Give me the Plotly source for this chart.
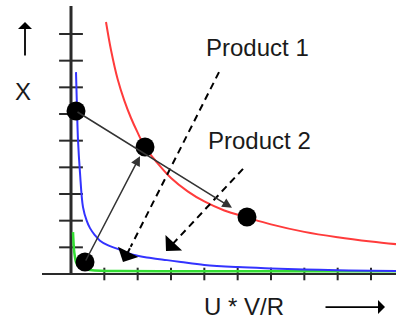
import plotly.graph_objects as go

# ---- data (in axis units: 1 x-unit = one x tick, 1 y-unit = one y tick) ----
red_x = [1.05, 1.2, 1.4, 1.6, 1.8, 2.0, 2.22, 2.6, 3.0, 3.5, 4.0, 4.6, 5.28, 6.0, 7.0, 8.0, 9.0, 9.75]
red_y = [9.45, 8.4, 7.3, 6.5, 5.85, 5.3, 4.76, 4.15, 3.6, 3.1, 2.72, 2.38, 2.12, 1.86, 1.58, 1.38, 1.22, 1.12]

blue_x = [0.15, 0.18, 0.21, 0.27, 0.36, 0.47, 0.57, 0.72, 0.87, 1.1, 1.38, 1.86, 2.4, 2.88, 3.3, 4.0, 5.0, 6.0, 7.0, 8.0, 9.0, 9.75]
blue_y = [7.57, 6.2, 5.02, 3.79, 2.51, 2.0, 1.72, 1.45, 1.25, 1.08, 0.95, 0.72, 0.6, 0.52, 0.45, 0.34, 0.26, 0.21, 0.17, 0.14, 0.12, 0.11]

green_x = [0.06, 0.08, 0.1, 0.15, 0.2, 0.27, 0.4, 0.57, 0.9, 1.47, 3.0, 5.0, 7.0, 9.75]
green_y = [1.57, 1.1, 0.8, 0.45, 0.33, 0.26, 0.19, 0.15, 0.12, 0.11, 0.1, 0.1, 0.1, 0.1]

dot_x = [0.15, 2.22, 5.28, 0.42]
dot_y = [6.11, 4.76, 2.14, 0.45]

ytick_vals = [1, 2, 3, 4, 5, 6, 7, 8, 9]
xtick_vals = [1, 2, 3, 4, 5, 6, 7, 8, 9]

labels = ["Product 1", "Product 2"]
label_x = [5.58, 5.64]
label_y = [8.51, 4.99]

# dashed pointer lines (start -> tip)
dash_start_x = [4.44, 5.16]
dash_start_y = [7.57, 3.94]
dash_tip_x = [1.56, 2.85]
dash_tip_y = [0.45, 0.86]

# solid arrows (tail -> tip)
solid_tail_x = [0.15, 0.42]
solid_tail_y = [6.11, 0.45]
solid_tip_x = [4.83, 2.07]
solid_tip_y = [2.48, 4.42]

FONT = "Liberation Sans, Arial, sans-serif"
AX = "#2a2a2a"

fig = go.Figure()

# axes lines
fig.add_shape(type="line", x0=0, y0=0, x1=0, y1=10.05, line=dict(color=AX, width=3), layer="below")
fig.add_shape(type="line", x0=-0.87, y0=0, x1=9.75, y1=0, line=dict(color=AX, width=2), layer="below")

# ticks
fig.add_trace(go.Scatter(x=[0] * len(ytick_vals), y=ytick_vals, mode="markers",
                         marker=dict(symbol="line-ew", size=17, line=dict(color=AX, width=2)),
                         hoverinfo="skip"))
fig.add_trace(go.Scatter(x=xtick_vals, y=[0] * len(xtick_vals), mode="markers",
                         marker=dict(symbol="line-ns", size=9, line=dict(color=AX, width=2)),
                         hoverinfo="skip"))

# curves
fig.add_trace(go.Scatter(x=green_x, y=green_y, mode="lines", line=dict(color="#33dd33", width=2.5, shape="spline")))
fig.add_trace(go.Scatter(x=blue_x, y=blue_y, mode="lines", line=dict(color="#3333ff", width=2, shape="spline")))
fig.add_trace(go.Scatter(x=red_x, y=red_y, mode="lines", line=dict(color="#ff3b3b", width=2, shape="spline")))

# dashed pointer lines
for i in range(2):
    fx = dash_tip_x[i] + (dash_start_x[i] - dash_tip_x[i]) * 0.08
    fy = dash_tip_y[i] + (dash_start_y[i] - dash_tip_y[i]) * 0.08
    fig.add_trace(go.Scatter(x=[dash_start_x[i], fx], y=[dash_start_y[i], fy],
                             mode="lines", line=dict(color="black", width=2, dash="7px,5px")))
    # arrow head only
    fig.add_annotation(x=dash_tip_x[i], y=dash_tip_y[i], ax=fx, ay=fy, xref="x", yref="y",
                       axref="x", ayref="y", showarrow=True, arrowhead=1, arrowsize=1.9,
                       arrowwidth=2, arrowcolor="black", text="")

# solid arrows
for i in range(2):
    fig.add_annotation(x=solid_tip_x[i], y=solid_tip_y[i], ax=solid_tail_x[i], ay=solid_tail_y[i],
                       xref="x", yref="y", axref="x", ayref="y", showarrow=True, arrowhead=2,
                       arrowsize=1.3, arrowwidth=1.5, arrowcolor="#333333", text="")

# dots
fig.add_trace(go.Scatter(x=dot_x, y=dot_y, mode="markers",
                         marker=dict(color="black", size=19, line=dict(width=0))))

# labels
for t, lx, ly in zip(labels, label_x, label_y):
    fig.add_annotation(x=lx, y=ly, text=t, showarrow=False, xref="x", yref="y",
                       font=dict(family=FONT, size=24, color="#1a1a1a"))

fig.add_annotation(x=-1.44, y=6.83, text="X", showarrow=False, xref="x", yref="y",
                   font=dict(family=FONT, size=24, color="#1a1a1a"))
fig.add_annotation(x=5.19, y=-1.2, text="U * V/R", showarrow=False, xref="x", yref="y",
                   font=dict(family=FONT, size=24, color="#1a1a1a"))

# axis direction arrows
fig.add_annotation(x=-1.38, y=9.45, ax=-1.38, ay=8.14, xref="x", yref="y", axref="x", ayref="y",
                   showarrow=True, arrowhead=1, arrowsize=1.3, arrowwidth=1.8, arrowcolor="black", text="")
fig.add_annotation(x=9.42, y=-1.24, ax=7.59, ay=-1.24, xref="x", yref="y", axref="x", ayref="y",
                   showarrow=True, arrowhead=1, arrowsize=1.3, arrowwidth=1.8, arrowcolor="black", text="")

fig.update_layout(
    width=396, height=320,
    margin=dict(l=0, r=0, t=0, b=0),
    paper_bgcolor="white", plot_bgcolor="white",
    showlegend=False,
    xaxis=dict(range=[-2.13, 9.75], visible=False, fixedrange=True),
    yaxis=dict(range=[-1.725, 10.275], visible=False, fixedrange=True),
)

fig.write_html("out.html", config={"displayModeBar": False},
               post_script="document.body.style.margin='0';document.body.style.overflow='hidden';")
